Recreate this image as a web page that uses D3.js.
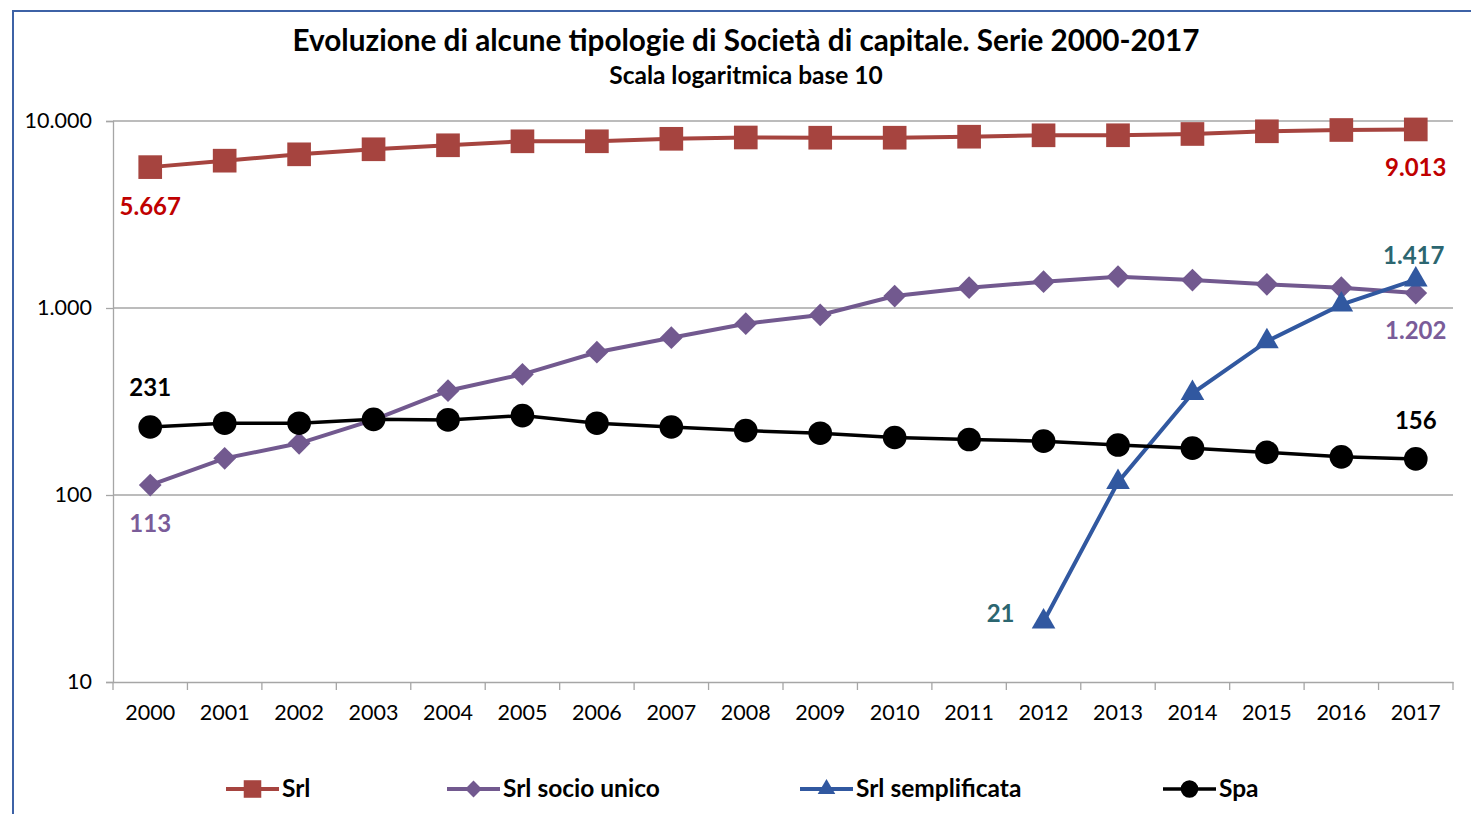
<!DOCTYPE html>
<html>
<head>
<meta charset="utf-8">
<script src="https://cdn.jsdelivr.net/npm/d3@7"></script>
<style>
  body { margin: 0; background: #fff; }
  text { font-family: Lato, "Open Sans", sans-serif; }
</style>
</head>
<body>
<div id="chart"></div>
<script>
"use strict";
(function(){
  const years = ['2000','2001','2002','2003','2004','2005','2006','2007','2008',
                 '2009','2010','2011','2012','2013','2014','2015','2016','2017']
  const srl = [5667, 6135, 6635, 7060, 7417, 7788, 7790, 8032, 8162,
               8140, 8140, 8241, 8385, 8390, 8522, 8810, 8951, 9013]
  const srlSocioUnico = [113, 157, 189, 252, 361, 442, 580, 694, 824,
                         918, 1159, 1284, 1383, 1471, 1411, 1338, 1284, 1202]
  const srlSemplificata = [null, null, null, null, null, null, null, null, null,
                           null, null, null, 21, 117, 350, 663, 1042, 1417]
  const spa = [231, 242, 242, 254, 252, 266, 242, 231, 221,
               214, 203, 198, 194, 185, 178, 169, 160, 156]
  const yTicks = [10, 100, 1000, 10000]

  let m = { width: 1471, height: 814 }
  const it = d3.formatLocale({decimal: ',', thousands: '.', grouping: [3], currency: ['€','']})
  const fmt = it.format(',d')

  const svg = d3.select('#chart').append('svg')
      .attr('width', m.width)
      .attr('height', m.height)

  // frame (only top and left edge are visible)
  svg.append('path')
      .attr('d', 'M13,814 L13,11 L1471,11')
      .attr('fill', 'none')
      .attr('stroke', '#3d62a6')
      .attr('stroke-width', 2)

  svg.append('text')
      .attr('x', 746).attr('y', 51)
      .attr('text-anchor', 'middle')
      .attr('font-size', '29.7px')
      .attr('font-weight', 'bold')
      .text('Evoluzione di alcune tipologie di Società di capitale. Serie 2000-2017')
  svg.append('text')
      .attr('x', 746).attr('y', 84)
      .attr('text-anchor', 'middle')
      .attr('font-size', '24.5px')
      .attr('font-weight', 'bold')
      .text('Scala logaritmica base 10')

  const x = d3.scaleBand().domain(years).range([113, 1453])
  const y = d3.scaleLog().domain([10, 10000]).range([682, 121])
  const cx = d => x(d) + x.bandwidth()/2

  // gridlines
  svg.append('g').selectAll('line')
    .data(yTicks.slice(1))
    .enter().append('line')
      .attr('x1', 113).attr('x2', 1453)
      .attr('y1', d => y(d)).attr('y2', d => y(d))
      .attr('stroke', '#a6a6a6').attr('stroke-width', 1.3)

  const yAxis = svg.append('g')
      .attr('transform', 'translate(113,0)')
      .call(d3.axisLeft(y).tickValues(yTicks).tickFormat(fmt).tickSize(7).tickPadding(14))
  const xAxis = svg.append('g')
      .attr('transform', 'translate(0,682)')
      .call(d3.axisBottom(x).tickSize(0).tickPadding(23))
  // x tick marks at band boundaries
  xAxis.selectAll('.bound')
    .data(years.concat(['end']))
    .enter().append('line')
      .attr('x1', (d,i) => 113 + i*x.step()).attr('x2', (d,i) => 113 + i*x.step())
      .attr('y1', 0).attr('y2', 8)
      .attr('stroke', '#a6a6a6').attr('stroke-width', 1.3)
  svg.selectAll('.domain, .tick line').attr('stroke', '#a6a6a6').attr('stroke-width', 1.3)
  svg.selectAll('.tick text')
      .attr('font-family', 'Lato, sans-serif')
      .attr('font-size', '21.5px')
      .attr('fill', '#000')

  const series = [
    {name: 'Srl', values: srl, color: '#a6443f', symbol: d3.symbolSquare, size: 560, lw: 4},
    {name: 'Srl socio unico', values: srlSocioUnico, color: '#72598f', symbol: d3.symbolDiamond2, size: 330, lw: 4},
    {name: 'Srl semplificata', values: srlSemplificata, color: '#3158a0', symbol: d3.symbolTriangle2, size: 400, lw: 4},
    {name: 'Spa', values: spa, color: '#000000', symbol: d3.symbolCircle, size: 440, lw: 3.5}
  ]

  const line = d3.line()
      .defined(d => d[1] != null)
      .x(d => cx(d[0]))
      .y(d => y(d[1]))

  series.forEach(function(s){
    const pts = years.map((yr,i) => [yr, s.values[i]])
    const g = svg.append('g')
    g.append('path')
      .datum(pts)
      .attr('d', line)
      .attr('fill', 'none')
      .attr('stroke', s.color)
      .attr('stroke-width', s.lw)
    g.selectAll('path.mk')
      .data(pts.filter(d => d[1] != null))
      .enter().append('path')
        .attr('class', 'mk')
        .attr('transform', d => 'translate(' + cx(d[0]) + ',' + y(d[1]) + ')')
        .attr('d', d3.symbol().type(s.symbol).size(s.size))
        .attr('fill', s.color)
  })

  // data labels
  const labels = [
    {yr: '2000', v: srl[0], dx: 0, dy: 42, color: '#c00000'},
    {yr: '2017', v: srl[17], dx: 0, dy: 40, color: '#c00000'},
    {yr: '2000', v: srlSocioUnico[0], dx: 0, dy: 41, color: '#7a5c99'},
    {yr: '2017', v: srlSocioUnico[17], dx: 0, dy: 40, color: '#7a5c99'},
    {yr: '2012', v: srlSemplificata[12], dx: -43, dy: -6, color: '#2c6670'},
    {yr: '2017', v: srlSemplificata[17], dx: -2, dy: -22, color: '#2c6670'},
    {yr: '2000', v: spa[0], dx: 0, dy: -37, color: '#000'},
    {yr: '2017', v: spa[17], dx: 0, dy: -36, color: '#000'}
  ]
  svg.append('g').selectAll('text')
    .data(labels)
    .enter().append('text')
      .attr('x', d => cx(d.yr) + d.dx)
      .attr('y', d => y(d.v) + d.dy)
      .attr('text-anchor', 'middle')
      .attr('dominant-baseline', 'middle')
      .attr('font-size', '24px')
      .attr('font-weight', 'bold')
      .attr('fill', d => d.color)
      .text(d => fmt(d.v))

  // legend
  const legendX = [226, 447, 800, 1163]
  const leg = svg.append('g').selectAll('g')
    .data(series)
    .enter().append('g')
      .attr('transform', (d,i) => 'translate(' + legendX[i] + ',789)')
  leg.append('line')
      .attr('x1', 0).attr('x2', 53)
      .attr('stroke', d => d.color)
      .attr('stroke-width', d => d.lw)
  leg.append('path')
      .attr('transform', 'translate(26.5,0)')
      .attr('d', d => d3.symbol().type(d.symbol).size(d.size*0.55)())
      .attr('fill', d => d.color)
  leg.append('text')
      .attr('x', 56)
      .attr('y', 2)
      .attr('dominant-baseline', 'middle')
      .attr('font-size', '24.5px')
      .attr('font-weight', 'bold')
      .text(d => d.name)
})();
</script>
</body>
</html>
